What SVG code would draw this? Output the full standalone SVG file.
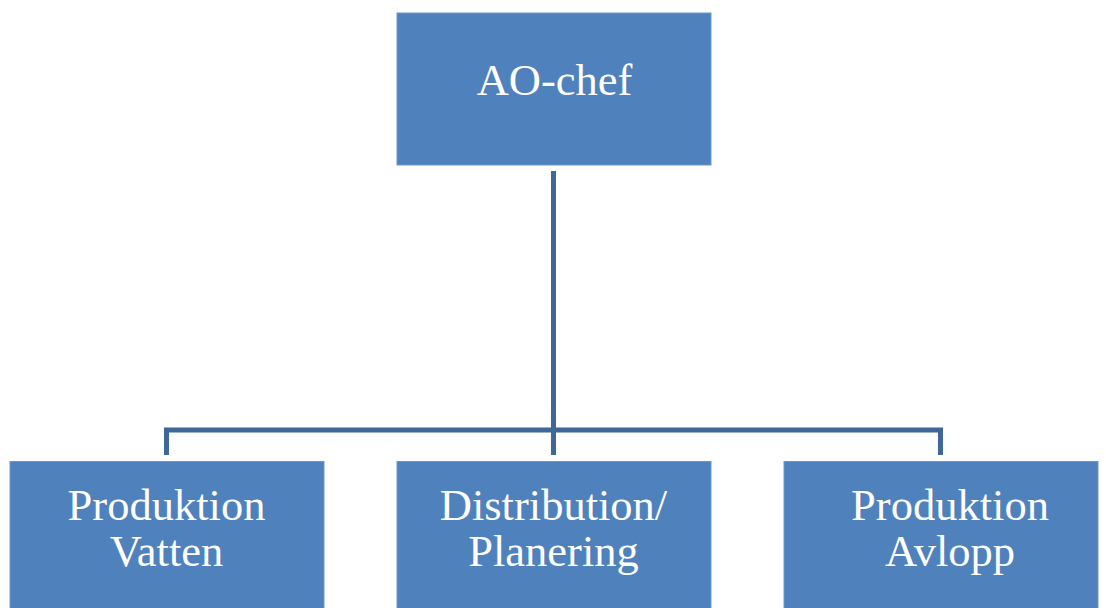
<svg xmlns="http://www.w3.org/2000/svg" width="1106" height="608" viewBox="0 0 1106 608">
<style>
.box{fill:#4F81BD;stroke:#6E98CC;stroke-width:1}
.lbl{font-family:"Liberation Serif","Times New Roman",serif;font-size:44.5px;fill:#FFFFFF;text-anchor:middle}
.conn{fill:none;stroke:#3F6898;stroke-width:5;stroke-linejoin:miter}
</style>
<rect width="1106" height="608" fill="#FFFFFF"/>
<g id="connectors">
<path class="conn" d="M553.5,171 V455"/>
<path class="conn" d="M166.5,455 V430 H940.5 V455"/>
</g>
<g id="ao-chef">
<rect class="box" x="397" y="13" width="314" height="152"/>
<text class="lbl" x="554.5" y="95">AO-chef</text>
</g>
<g id="produktion-vatten">
<rect class="box" x="10" y="461.5" width="314" height="152"/>
<text class="lbl" x="166.5" y="520">Produktion</text>
<text class="lbl" x="166.5" y="566">Vatten</text>
</g>
<g id="distribution-planering">
<rect class="box" x="397" y="461.5" width="314" height="152"/>
<text class="lbl" x="553.5" y="520">Distribution/</text>
<text class="lbl" x="553.5" y="566">Planering</text>
</g>
<g id="produktion-avlopp">
<rect class="box" x="784" y="461.5" width="314" height="152"/>
<text class="lbl" x="950" y="520">Produktion</text>
<text class="lbl" x="950" y="566">Avlopp</text>
</g>
</svg>
